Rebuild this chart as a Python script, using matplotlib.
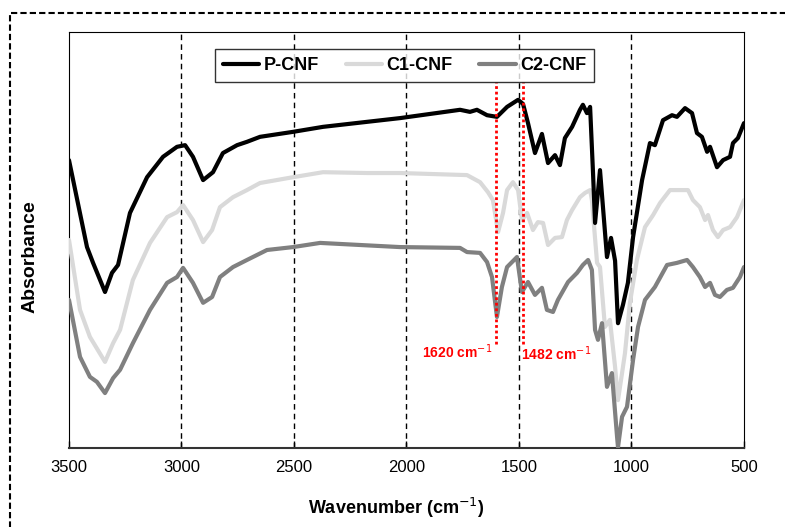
import matplotlib
matplotlib.use("Agg")
import matplotlib.pyplot as plt
from matplotlib.patches import Rectangle

# wavenumber (cm-1) / absorbance (arb. units)
P_WN = [3500, 3420, 3393, 3340, 3309, 3282, 3229, 3153, 3082, 3020, 2984, 2949,
        2904, 2860, 2816, 2753, 2709, 2651, 2504, 2371, 2176, 2029, 1762, 1718,
        1687, 1642, 1598, 1553, 1504, 1482, 1460, 1429, 1398, 1371, 1340, 1318,
        1296, 1264, 1229, 1216, 1198, 1184, 1171, 1162, 1140, 1109, 1091, 1073,
        1060, 1038, 1016, 993, 953, 918, 896, 860, 820, 798, 762, 731, 709, 687,
        664, 651, 620, 593, 562, 549, 527, 500]
P_ABS = [0.692, 0.483, 0.445, 0.375, 0.421, 0.440, 0.565, 0.651, 0.700, 0.724,
         0.728, 0.700, 0.644, 0.663, 0.709, 0.728, 0.736, 0.748, 0.760, 0.772,
         0.784, 0.793, 0.813, 0.808, 0.813, 0.800, 0.796, 0.820, 0.837, 0.827,
         0.781, 0.709, 0.755, 0.685, 0.704, 0.680, 0.745, 0.772, 0.813, 0.825,
         0.805, 0.820, 0.661, 0.541, 0.668, 0.459, 0.505, 0.450, 0.300, 0.344,
         0.397, 0.507, 0.644, 0.733, 0.728, 0.788, 0.800, 0.796, 0.817, 0.805,
         0.757, 0.748, 0.712, 0.724, 0.675, 0.692, 0.700, 0.733, 0.745, 0.781]

C1_WN = [3500, 3451, 3407, 3340, 3304, 3273, 3216, 3140, 3064, 3020, 2993, 2949,
         2904, 2864, 2829, 2771, 2709, 2651, 2504, 2371, 2176, 2029, 1731, 1673,
         1638, 1616, 1593, 1571, 1553, 1527, 1504, 1487, 1464, 1438, 1416, 1393,
         1371, 1340, 1309, 1287, 1264, 1229, 1207, 1184, 1176, 1153, 1140, 1118,
         1096, 1073, 1060, 1042, 1029, 1007, 976, 940, 904, 873, 829, 784, 749,
         727, 696, 673, 660, 638, 616, 593, 562, 531, 500]
C1_ABS = [0.500, 0.332, 0.267, 0.207, 0.252, 0.284, 0.404, 0.493, 0.555, 0.567,
          0.584, 0.548, 0.495, 0.524, 0.579, 0.603, 0.620, 0.637, 0.651, 0.663,
          0.661, 0.661, 0.656, 0.639, 0.615, 0.596, 0.519, 0.565, 0.620, 0.639,
          0.620, 0.548, 0.565, 0.524, 0.543, 0.541, 0.488, 0.505, 0.507, 0.548,
          0.572, 0.603, 0.613, 0.620, 0.596, 0.445, 0.435, 0.291, 0.308, 0.195,
          0.115, 0.180, 0.228, 0.349, 0.452, 0.531, 0.560, 0.589, 0.620, 0.620,
          0.620, 0.596, 0.579, 0.548, 0.560, 0.524, 0.507, 0.524, 0.531, 0.555,
          0.596]

C2_WN = [3500, 3451, 3407, 3376, 3340, 3304, 3273, 3216, 3140, 3064, 3020, 2993,
         2949, 2904, 2864, 2829, 2771, 2709, 2620, 2504, 2384, 2029, 1762, 1731,
         1673, 1642, 1620, 1598, 1576, 1553, 1509, 1487, 1460, 1429, 1398, 1376,
         1349, 1327, 1282, 1242, 1216, 1193, 1176, 1162, 1149, 1131, 1109, 1087,
         1064, 1060, 1042, 1020, 993, 971, 940, 896, 842, 798, 753, 727, 696, 673,
         651, 629, 607, 576, 549, 518, 500]
C2_ABS = [0.356, 0.219, 0.171, 0.159, 0.132, 0.168, 0.188, 0.252, 0.332, 0.397,
          0.411, 0.433, 0.397, 0.349, 0.363, 0.411, 0.435, 0.452, 0.476, 0.483,
          0.493, 0.483, 0.481, 0.471, 0.469, 0.447, 0.411, 0.315, 0.387, 0.435,
          0.459, 0.375, 0.399, 0.368, 0.385, 0.332, 0.327, 0.356, 0.399, 0.421,
          0.440, 0.452, 0.428, 0.284, 0.260, 0.300, 0.147, 0.180, 0.026, 0.002,
          0.075, 0.099, 0.212, 0.291, 0.356, 0.387, 0.440, 0.445, 0.452, 0.435,
          0.411, 0.387, 0.397, 0.368, 0.363, 0.380, 0.385, 0.411, 0.435]

SERIES = ["P-CNF", "C1-CNF", "C2-CNF"]
COLORS = ["#000000", "#d9d9d9", "#808080"]

GRID_WN = [3000, 2500, 2000, 1500, 1000]
PEAK_POS = [1600, 1482]
PEAK_LABELS = ["1620 cm$^{-1}$", "1482 cm$^{-1}$"]

FONT = ["Liberation Sans", "DejaVu Sans"]
NARROW = ["Liberation Sans Narrow", "Liberation Sans", "DejaVu Sans"]

plt.rcParams["font.family"] = FONT

fig = plt.figure(figsize=(7.85, 5.27), dpi=100)
ax = fig.add_axes([69 / 785, 79 / 527, 675 / 785, 416 / 527])

for wn, ab, name, col in zip([P_WN, C1_WN, C2_WN], [P_ABS, C1_ABS, C2_ABS],
                             SERIES, COLORS):
    ax.plot(wn, ab, color=col, lw=3, label=name, solid_joinstyle="round",
            solid_capstyle="round", zorder=3)
# draw black on top like the reference
ax.lines[0].set_zorder(4)

for g in GRID_WN:
    ax.axvline(g, color="black", lw=1, ls=(0, (4, 3)), zorder=1)

ax.vlines(PEAK_POS, 0.25, 0.88, colors="red", lw=2, linestyles=(0, (1, 1)),
          zorder=5)
ax.text(1620, 0.232, PEAK_LABELS[0], color="red", fontsize=10,
        fontweight="bold", ha="right", va="center")
ax.text(1491, 0.226, PEAK_LABELS[1], color="red", fontsize=10,
        fontweight="bold", ha="left", va="center")

ax.set_xlim(3500, 500)
ax.set_ylim(0, 1)
ax.set_xticks(range(3500, 499, -500))
ax.set_yticks([])
ax.tick_params(axis="x", direction="in", length=5, width=1, pad=9,
               labelsize=12)
for s in ["left", "top", "right"]:
    ax.spines[s].set_linewidth(0.8)
ax.spines["bottom"].set_linewidth(1.5)
ax.spines["bottom"].set_color("#333333")

leg = ax.legend(loc="upper center", bbox_to_anchor=(0.497, 0.981), ncol=3,
                frameon=True, fancybox=False, edgecolor="black",
                handlelength=2.0, handletextpad=0.25, columnspacing=1.5,
                borderpad=0.45, prop={"family": NARROW, "weight": "bold",
                                      "size": 13})
leg.get_frame().set_linewidth(1.0)
leg.set_zorder(6)

fig.text(396 / 785, 1 - 508 / 527, "Wavenumber (cm$^{-1}$)", ha="center",
         va="center", fontsize=13, fontweight="bold")
fig.text(30 / 785, 1 - 257 / 527, "Absorbance", ha="center", va="center",
         rotation=90, fontsize=14, fontweight="bold")

fig.patches.append(Rectangle((10 / 785, -0.05), 1.1, 1 - 13 / 527 + 0.05,
                             transform=fig.transFigure, fill=False,
                             edgecolor="black", lw=1.5,
                             ls=(0, (3, 1.5)), clip_on=False))

fig.savefig("out.png", dpi=100)
